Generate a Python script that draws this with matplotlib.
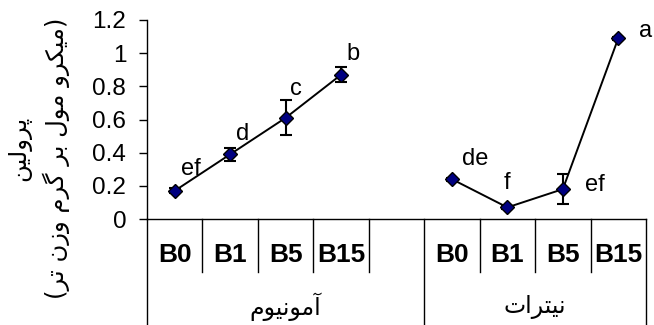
import matplotlib
matplotlib.use('Agg')
import matplotlib.pyplot as plt
import matplotlib.transforms as mtransforms
import numpy as np

plt.rcParams['font.family'] = ['Liberation Sans', 'DejaVu Sans']

# data
groups = ['آمونیوم', 'نیترات']
levels = ['B0', 'B1', 'B5', 'B15']
ammonium = [0.17, 0.39, 0.61, 0.87]
ammonium_err = [0.015, 0.04, 0.105, 0.045]
ammonium_letters = ['ef', 'd', 'c', 'b']
nitrate = [0.24, 0.07, 0.18, 1.09]
nitrate_err = [0.01, 0.01, 0.09, 0.01]
nitrate_letters = ['de', 'f', 'ef', 'a']
y_label_1 = 'پرولین'
y_label_2 = '(میکرو مول بر گرم وزن تر)'
y_ticks = [0, 0.2, 0.4, 0.6, 0.8, 1.0, 1.2]

# matplotlib has no arabic shaping, so pick presentation forms by hand
FORMS = {
    'آ': ('\ufe81', '\ufe82', None, None),
    'ا': ('\ufe8d', '\ufe8e', None, None),
    'ب': ('\ufe8f', '\ufe90', '\ufe91', '\ufe92'),
    'پ': ('\ufb56', '\ufb57', '\ufb58', '\ufb59'),
    'ت': ('\ufe95', '\ufe96', '\ufe97', '\ufe98'),
    'ر': ('\ufead', '\ufeae', None, None),
    'ز': ('\ufeaf', '\ufeb0', None, None),
    'ک': ('\ufb8e', '\ufb8f', '\ufb90', '\ufb91'),
    'ك': ('\ufed9', '\ufeda', '\ufedb', '\ufedc'),
    'گ': ('\ufb92', '\ufb93', '\ufb94', '\ufb95'),
    'ل': ('\ufedd', '\ufede', '\ufedf', '\ufee0'),
    'م': ('\ufee1', '\ufee2', '\ufee3', '\ufee4'),
    'ن': ('\ufee5', '\ufee6', '\ufee7', '\ufee8'),
    'و': ('\ufeed', '\ufeee', None, None),
    'ی': ('\ufbfc', '\ufbfd', '\ufbfe', '\ufbff'),
    'ي': ('\ufef1', '\ufef2', '\ufef3', '\ufef4'),
}


def rtl(text):
    out = []
    for i, ch in enumerate(text):
        if ch not in FORMS:
            out.append(ch)
            continue
        prev = text[i - 1] if i > 0 else ''
        nxt = text[i + 1] if i + 1 < len(text) else ''
        iso, fin, ini, med = FORMS[ch]
        join_prev = prev in FORMS and FORMS[prev][2] is not None
        join_next = ini is not None and nxt in FORMS
        if join_prev and join_next:
            out.append(med)
        elif join_prev:
            out.append(fin)
        elif join_next:
            out.append(ini)
        else:
            out.append(iso)
    vis = ''.join(reversed(out))
    return vis.translate(str.maketrans('()', ')('))


fig = plt.figure(figsize=(6.54, 3.25), dpi=100)
ax = fig.add_axes([147 / 654, 1 - 219 / 325, 499 / 654, 199 / 325])

n = len(levels)
amm_x = np.arange(n) + 0.5
nit_x = amm_x + n + 1

for xs, ys, errs, letters, offs in [
    (amm_x, ammonium, ammonium_err, ammonium_letters,
     [(16, 22), (12, 20), (10, 29), (12, 21)]),
    (nit_x, nitrate, nitrate_err, nitrate_letters,
     [(23, 20), (0, 24), (32, 4), (27, 7)]),
]:
    ax.errorbar(xs, ys, yerr=errs, fmt='none', ecolor='black', elinewidth=1.5,
                capsize=4, capthick=1.5, zorder=2)
    ax.plot(xs, ys, color='black', lw=1.4, marker='D', markersize=7.5,
            markerfacecolor='#000080', markeredgecolor='black', mew=1, zorder=3)
    for x, y, t, (dx, dy) in zip(xs, ys, letters, offs):
        ax.annotate(t, (x, y), xytext=(dx, dy), textcoords='offset pixels',
                    ha='center', va='center', fontsize=17, annotation_clip=False)

ax.set_xlim(0, 2 * n + 1)
ax.set_ylim(0, 1.2)
ax.set_yticks(y_ticks)
ax.set_yticklabels(['%g' % v for v in y_ticks])
ax.tick_params(axis='y', direction='out', length=6, width=1, pad=9, labelsize=17.5)
ax.tick_params(axis='x', bottom=False, labelbottom=False)
for s in ['top', 'right']:
    ax.spines[s].set_visible(False)
ax.spines['left'].set_linewidth(1)
ax.spines['bottom'].set_linewidth(1)

# category table under the axis
trans = mtransforms.blended_transform_factory(ax.transData, ax.transAxes)
short_y = -53 / 199
long_y = -106 / 199
for b in list(range(1, n + 1)) + list(range(n + 2, 2 * n + 1)):
    ax.plot([b, b], [0, short_y], transform=trans, clip_on=False,
            color='black', lw=1)
for b in [0, n + 1, 2 * n + 1]:
    ax.plot([b, b], [0, long_y], transform=trans, clip_on=False,
            color='black', lw=1)
for xs in (amm_x, nit_x):
    for x, lab in zip(xs, levels):
        ax.text(x, -36 / 199, lab, transform=trans, ha='center', va='center',
                fontsize=19, fontweight='bold')
ax.text((n + 1) / 2, -88 / 199, rtl(groups[0]), transform=trans,
        ha='center', va='center', fontsize=17, family=['DejaVu Sans'])
ax.text(n + 1 + n / 2, -88 / 199, rtl(groups[1]), transform=trans,
        ha='center', va='center', fontsize=17, family=['DejaVu Sans'])

fig.text(19 / 654, 1 - 148 / 325, rtl(y_label_1), rotation=90, ha='center',
         va='center', fontsize=17.5, family=['DejaVu Sans'])
fig.text(56 / 654, 1 - 158 / 325, rtl(y_label_2), rotation=90, ha='center',
         va='center', fontsize=17.5, family=['DejaVu Sans'])

fig.savefig('out.png', dpi=100)
